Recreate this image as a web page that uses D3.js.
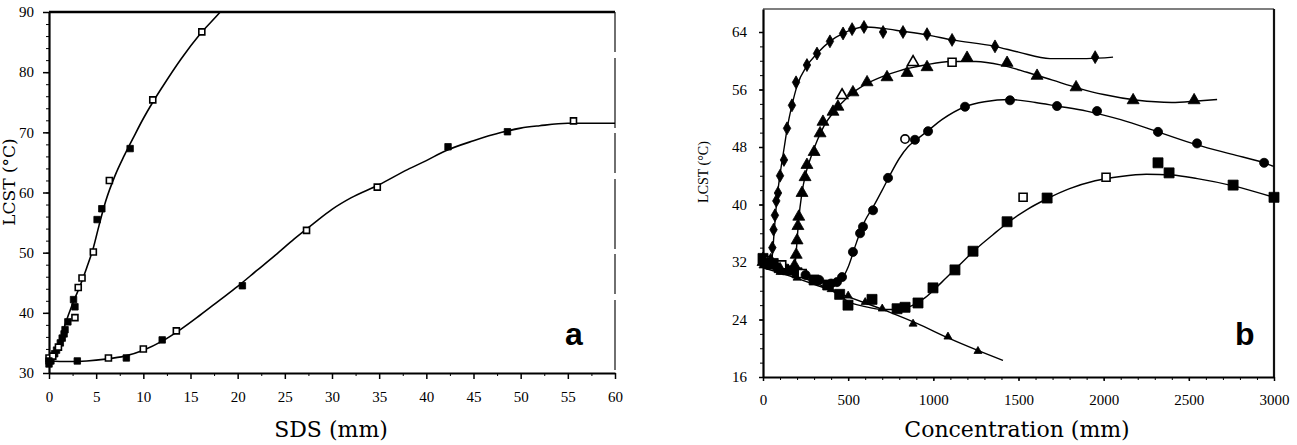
<!DOCTYPE html>
<html>
<head>
<meta charset="utf-8">
<script src="https://cdn.jsdelivr.net/npm/d3@7"></script>
<style>
  body { margin: 0; background: #fff; }
  svg { display: block; }
</style>
</head>
<body>
<svg id="chart" width="1297" height="445"></svg>
<script>
// ---- panel a : LCST vs SDS ----
const aXTicks = [0, 5, 10, 15, 20, 25, 30, 35, 40, 45, 50, 55, 60];
const aYTicks = [30, 40, 50, 60, 70, 80, 90];

// fast-rising series (fitted line + measured points)
const aFastCurve = [[0, 31.8], [0.5, 32.8], [1, 34.3], [1.7, 38], [2.5, 41.5], [3.3, 44.5], [4, 47.5], [4.7, 50.8],
  [5.3, 54.5], [6, 58.5], [7, 62.8], [8, 66.2], [9, 69.3], [10, 72.3], [11, 75], [12, 77.5], [14, 82.2],
  [16, 86.3], [18.1, 89.9], [19, 91.6]];
const aFastFilled = [[0, 31.5], [0.2, 32], [0.6, 33.2], [0.8, 33.8], [1.2, 35], [1.4, 35.8], [1.6, 36.5],
  [1.7, 37.2], [2, 38.5], [2.75, 41], [2.6, 42.2], [5.1, 55.5], [5.6, 57.3], [8.6, 67.3]];
const aFastOpen = [[0, 32.5], [0.4, 32.8], [1, 34.3], [2.75, 39.2], [3.1, 44.2], [3.5, 45.8], [4.7, 50.1],
  [6.4, 62], [11, 75.4], [16.2, 86.7]];

// slow sigmoid series
const aSlowCurve = [[0, 32], [2, 31.9], [4, 32], [6, 32.3], [8, 32.8], [10, 33.8], [12, 35.3], [14, 37.3],
  [16, 39.6], [18, 42], [20, 44.4], [22, 47], [24, 49.6], [26, 52.3], [28, 54.8], [30, 57.2], [32, 59.1],
  [35, 61.3], [38, 63.8], [40, 65.3], [42, 66.9], [45, 68.6], [48, 70], [50, 70.7], [52, 71.1], [55, 71.5], [60, 71.5]];
const aSlowFilled = [[0, 32], [3, 32], [8.2, 32.5], [12, 35.5], [20.5, 44.5], [42.3, 67.6], [48.6, 70.1]];
const aSlowOpen = [[6.3, 32.5], [10, 34], [13.5, 37], [27.3, 53.7], [34.8, 60.9], [55.6, 71.9]];

// ---- panel b : LCST vs concentration ----
const bXTicks = [0, 500, 1000, 1500, 2000, 2500, 3000];
const bYTicks = [16, 24, 32, 40, 48, 56, 64];

// series 1 (diamonds)
const b1Curve = [[0, 31.8], [40, 31.3], [55, 33], [65, 36], [75, 39], [88, 42], [105, 45], [125, 48], [145, 51],
  [170, 53.8], [200, 56.5], [258, 59.3], [317, 61], [393, 62.7], [470, 63.8], [530, 64.4], [600, 64.7],
  [700, 64.5], [820, 64.1], [960, 63.6], [1110, 62.9], [1360, 62], [1500, 61.2], [1685, 60.3], [1900, 60.3], [2055, 60.5]];
const b1Points = [[0, 32.5], [25, 31.8], [45, 32.3], [55, 34], [62, 36.5], [70, 38.5], [78, 40.5], [88, 41.6],
  [100, 44], [123, 46.2], [141, 50.6], [170, 53.8], [194, 57], [258, 59.4], [317, 61], [393, 62.7], [470, 63.8],
  [523, 64.4], [593, 64.7], [705, 64], [822, 64], [963, 63.7], [1110, 62.9], [1362, 62], [1950, 60.5]];

// series 2 (triangles)
const b2Curve = [[0, 31.8], [100, 31], [175, 30.6], [192, 32.5], [200, 35], [210, 38], [228, 41.5], [250, 44.2],
  [280, 46.5], [320, 49], [360, 51], [420, 53], [500, 55], [600, 56.7], [700, 57.8], [800, 58.6], [950, 59.4],
  [1100, 59.9], [1250, 59.9], [1400, 59.4], [1550, 58.4], [1700, 57.3], [1850, 56.2], [2000, 55.3], [2200, 54.5],
  [2400, 54.2], [2550, 54.4], [2666, 54.6]];
const b2Points = [[0, 32], [50, 31.5], [100, 31], [150, 30.7], [185, 31.5], [195, 33], [200, 35], [205, 37],
  [210, 38.3], [229, 41.6], [247, 43.8], [258, 45.5], [300, 47.3], [335, 49.9], [352, 51.5], [411, 52.9],
  [440, 53.6], [528, 55.6], [611, 57], [728, 57.7], [846, 58.3], [963, 59.1], [1198, 60.4], [1433, 59.7],
  [1609, 57.9], [1838, 56.3], [2173, 54.5], [2531, 54.5]];
const b2Open = [[464, 55.2], [881, 59.8]];

// series 3 (circles)
const b3Curve = [[0, 31.6], [150, 30.6], [300, 29.6], [420, 28.8], [460, 29.5], [500, 31.3], [550, 34.8],
  [600, 37.8], [650, 39.8], [700, 42], [750, 44.3], [800, 46.4], [850, 48], [900, 49], [970, 50.3], [1050, 51.8],
  [1186, 53.6], [1300, 54.3], [1450, 54.6], [1600, 54.2], [1726, 53.7], [1900, 53], [2100, 51.8], [2319, 50.1],
  [2548, 48.3], [2750, 47], [2942, 45.8], [3000, 45.3]];
const b3Points = [[0, 32], [80, 31.3], [160, 30.8], [250, 30.2], [330, 29.5], [400, 29], [434, 29.2], [464, 29.9],
  [528, 33.4], [570, 36], [587, 36.9], [646, 39.2], [734, 43.7], [892, 49], [969, 50.2], [1186, 53.6], [1450, 54.5],
  [1726, 53.7], [1961, 53], [2319, 50.1], [2548, 48.5], [2942, 45.8]];
const b3Open = [[834, 49.1]];

// series 4 (squares)
const b4Curve = [[0, 31.8], [150, 30.5], [300, 29.2], [420, 27.8], [500, 26.5], [600, 25.8], [700, 25.4],
  [800, 25.4], [880, 26], [950, 27], [1050, 29.2], [1150, 31.5], [1250, 33.8], [1350, 35.8], [1433, 37.4],
  [1550, 39.3], [1668, 40.8], [1800, 42.2], [1950, 43.3], [2100, 43.9], [2250, 44.2], [2400, 44.1], [2550, 43.6],
  [2760, 42.6], [3000, 41]];
const b4Points = [[0, 32.5], [60, 31.8], [120, 31], [200, 30.5], [300, 29.5], [380, 28.8], [450, 27.5], [499, 26],
  [640, 26.8], [787, 25.5], [834, 25.7], [910, 26.3], [998, 28.4], [1127, 30.9], [1233, 33.5], [1433, 37.6],
  [1668, 40.9], [2319, 45.8], [2384, 44.4], [2760, 42.7], [3000, 41]];
const b4Open = [[30, 32.2], [110, 31.6], [230, 30.4], [1110, 59.8], [1527, 41], [2014, 43.8]];

// series 5 (small triangles, straight decline)
const b5Curve = [[0, 31.2], [150, 30.1], [300, 28.9], [450, 27.6], [600, 26.3], [746, 25], [900, 23.5],
  [1100, 21.3], [1250, 19.8], [1409, 18.3]];
const b5Points = [[0, 31.5], [100, 30.6], [200, 29.8], [300, 29.2], [400, 28.2], [500, 27.3], [600, 26.4],
  [700, 25.5], [881, 23.4], [1086, 21.6], [1262, 19.6]];

const svg = d3.select("#chart");
const tickFont = "'Liberation Serif', serif";
const titleFont = "'DejaVu Serif', serif";

// draws frame, axes and minor ticks for one panel
function drawPanel(id, x, y, xTicks, yTicks, xMinor, yMinor, opt) {
  const g = svg.append("g").attr("id", id);

  g.append("defs").append("clipPath").attr("id", id + "-clip")
    .append("rect")
    .attr("x", x.range()[0]).attr("y", y.range()[1])
    .attr("width", x.range()[1] - x.range()[0])
    .attr("height", y.range()[0] - y.range()[1]);

  // top and right frame
  g.append("line")
    .attr("x1", x.range()[0]).attr("x2", x.range()[1])
    .attr("y1", y.range()[1]).attr("y2", y.range()[1])
    .attr("stroke", opt.topColor).attr("stroke-width", opt.topWidth);
  g.append("line")
    .attr("x1", x.range()[1]).attr("x2", x.range()[1])
    .attr("y1", y.range()[1]).attr("y2", y.range()[0])
    .attr("stroke", "#111").attr("stroke-width", opt.rightWidth)
    .attr("stroke-dasharray", opt.rightDash);

  // minor ticks
  g.append("g")
    .attr("transform", `translate(0,${y.range()[0]})`)
    .call(d3.axisBottom(x).tickValues(xMinor).tickSize(3).tickFormat(""))
    .call(s => s.select(".domain").remove());
  g.append("g")
    .attr("transform", `translate(${x.range()[0]},0)`)
    .call(d3.axisLeft(y).tickValues(yMinor).tickSize(3).tickFormat(""))
    .call(s => s.select(".domain").remove());

  // major axes
  const xa = g.append("g")
    .attr("transform", `translate(0,${y.range()[0]})`)
    .call(d3.axisBottom(x).tickValues(xTicks).tickFormat(d3.format("d"))
      .tickSize(opt.tick).tickPadding(opt.xPad).tickSizeOuter(0));
  const ya = g.append("g")
    .attr("transform", `translate(${x.range()[0]},0)`)
    .call(d3.axisLeft(y).tickValues(yTicks).tickFormat(d3.format("d"))
      .tickSize(opt.tick).tickPadding(opt.yPad).tickSizeOuter(0));

  [xa, ya].forEach(a => {
    a.select(".domain").attr("stroke", "#000").attr("stroke-width", 2.2);
    a.selectAll(".tick line").attr("stroke-width", 1.5);
    a.selectAll("text")
      .style("font-family", tickFont)
      .style("font-size", "15px")
      .attr("fill", "#000");
  });
  g.selectAll(".tick line").attr("stroke", "#000");

  return g;
}

function drawCurve(g, id, x, y, pts, width) {
  g.append("path")
    .datum(pts)
    .attr("clip-path", `url(#${id}-clip)`)
    .attr("fill", "none")
    .attr("stroke", "#000")
    .attr("stroke-width", width)
    .attr("d", d3.line().x(d => x(d[0])).y(d => y(d[1])).curve(d3.curveMonotoneX));
}

function drawMarks(g, x, y, pts, type, size, open) {
  g.append("g").selectAll("path")
    .data(pts)
    .join("path")
    .attr("transform", d => `translate(${x(d[0])},${y(d[1])})`)
    .attr("d", d3.symbol().type(type).size(size))
    .attr("fill", open ? "#fff" : "#000")
    .attr("stroke", "#000")
    .attr("stroke-width", open ? 1.6 : 0.8);
}

// ---------- panel a ----------
const xA = d3.scaleLinear().domain([0, 60]).range([49, 615]);
const yA = d3.scaleLinear().domain([30, 90]).range([373, 12]);
const gA = drawPanel("pa", xA, yA, aXTicks, aYTicks, d3.range(2.5, 60, 5), d3.range(32, 90, 2),
  { tick: 6, xPad: 12, yPad: 9, topColor: "#000", topWidth: 2.5, rightWidth: 1.2, rightDash: "40,6,70,5" });

drawCurve(gA, "pa", xA, yA, aFastCurve, 1.6);
drawCurve(gA, "pa", xA, yA, aSlowCurve, 1.6);
drawMarks(gA, xA, yA, aFastFilled, d3.symbolSquare, 42, false);
drawMarks(gA, xA, yA, aFastOpen, d3.symbolSquare, 36, true);
drawMarks(gA, xA, yA, aSlowFilled, d3.symbolSquare, 42, false);
drawMarks(gA, xA, yA, aSlowOpen, d3.symbolSquare, 36, true);

svg.append("text")
  .attr("x", 331).attr("y", 437)
  .attr("text-anchor", "middle")
  .style("font-family", titleFont).style("font-size", "22px")
  .text("SDS (mm)");
svg.append("text")
  .attr("transform", "translate(15,182) rotate(-90)")
  .attr("text-anchor", "middle")
  .style("font-family", titleFont).style("font-size", "17px")
  .text("LCST (°C)");
svg.append("text")
  .attr("x", 565).attr("y", 345)
  .style("font-family", "'Liberation Sans', sans-serif").style("font-weight", "bold").style("font-size", "32px")
  .text("a");

// ---------- panel b ----------
const xB = d3.scaleLinear().domain([0, 3000]).range([763, 1274]);
const yB = d3.scaleLinear().domain([16, 67.2]).range([377, 9]);
const gB = drawPanel("pb", xB, yB, bXTicks, bYTicks, d3.range(100, 3000, 100), d3.range(18, 66, 2),
  { tick: 4, xPad: 13, yPad: 12, topColor: "#555", topWidth: 1.5, rightWidth: 2.2, rightDash: null });

[b1Curve, b2Curve, b3Curve, b4Curve, b5Curve].forEach(c => drawCurve(gB, "pb", xB, yB, c, 1.4));
drawMarks(gB, xB, yB, b5Points, d3.symbolTriangle, 28, false);
drawMarks(gB, xB, yB, b4Points, d3.symbolSquare, 100, false);
drawMarks(gB, xB, yB, b4Open, d3.symbolSquare, 64, true);
drawMarks(gB, xB, yB, b3Points, d3.symbolCircle, 65, false);
drawMarks(gB, xB, yB, b3Open, d3.symbolCircle, 55, true);
drawMarks(gB, xB, yB, b2Points, d3.symbolTriangle, 62, false);
drawMarks(gB, xB, yB, b2Open, d3.symbolTriangle, 55, true);
drawMarks(gB, xB, yB, b1Points, d3.symbolDiamond, 48, false);

svg.append("text")
  .attr("x", 1017).attr("y", 437)
  .attr("text-anchor", "middle")
  .style("font-family", titleFont).style("font-size", "22px")
  .text("Concentration (mm)");
svg.append("text")
  .attr("transform", "translate(708,172) rotate(-90)")
  .attr("text-anchor", "middle")
  .style("font-family", tickFont).style("font-size", "14px")
  .text("LCST (°C)");
svg.append("text")
  .attr("x", 1235).attr("y", 345)
  .style("font-family", "'Liberation Sans', sans-serif").style("font-weight", "bold").style("font-size", "32px")
  .text("b");
</script>
</body>
</html>
